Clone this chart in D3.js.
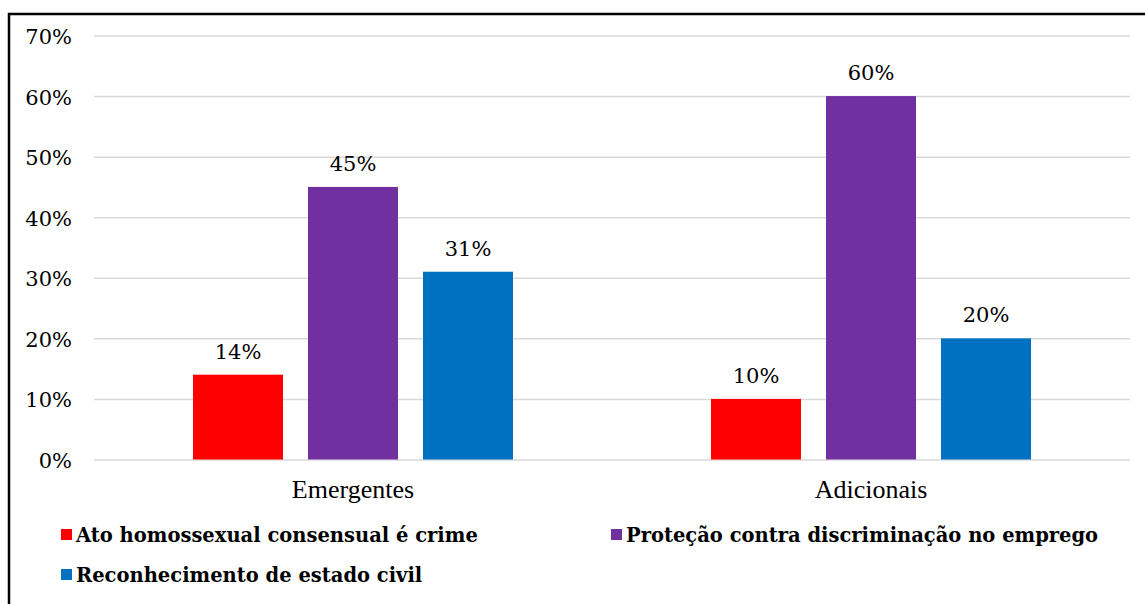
<!DOCTYPE html>
<html>
<head>
<meta charset="utf-8">
<script src="https://cdn.jsdelivr.net/npm/d3@7"></script>
<style>
  body { margin: 0; background: #fff; }
  svg { display: block; }
</style>
</head>
<body>
<svg width="1145" height="604"></svg>
<script>
// chart data
const categories = ["Emergentes", "Adicionais"];
const seriesNames = [
  "Ato homossexual consensual é crime",
  "Proteção contra discriminação no emprego",
  "Reconhecimento de estado civil"
];
const seriesColors = ["#FF0000", "#7030A0", "#0070C0"];
const crime = [14, 10];
const emprego = [45, 60];
const civil = [31, 20];
const yTicks = [0, 10, 20, 30, 40, 50, 60, 70];

const values = [crime, emprego, civil];

const svg = d3.select("svg"),
      width = +svg.attr("width"),
      height = +svg.attr("height");

// outer frame
svg.append("path")
    .attr("d", `M9,${height} V14 H${width}`)
    .attr("fill", "none")
    .attr("stroke", "#000")
    .attr("stroke-width", 2.5);

const plot = { left: 94, right: 1130, top: 35.5, bottom: 459.5 };

const y = d3.scaleLinear()
    .domain([0, 70])
    .range([plot.bottom, plot.top]);

const x0 = d3.scaleBand()
    .domain(categories)
    .range([plot.left, plot.right]);

const x1 = d3.scaleBand()
    .domain(d3.range(seriesNames.length))
    .range([-160, 160])
    .paddingInner(25 / 115);

// gridlines + y labels
const yAxis = d3.axisLeft(y)
    .tickValues(yTicks)
    .tickSize(-(plot.right - plot.left))
    .tickPadding(22)
    .tickFormat(d => d + "%");

const gy = svg.append("g")
    .attr("transform", `translate(${plot.left},0)`)
    .call(yAxis);
gy.select(".domain").remove();
gy.selectAll(".tick line")
    .attr("stroke", "#D9D9D9")
    .attr("stroke-width", 1.5);
gy.selectAll(".tick text")
    .attr("fill", "#000")
    .style("font-family", "'DejaVu Serif', serif")
    .style("font-size", "21px")
    .attr("dy", "0.38em");

// bars
const groups = svg.selectAll(".grp")
    .data(categories)
    .join("g")
    .classed("grp", true)
    .attr("transform", d => `translate(${x0(d) + x0.bandwidth() / 2},0)`);

groups.selectAll("rect")
    .data((c, i) => values.map((s, k) => ({ k: k, v: s[i] })))
    .join("rect")
    .attr("x", d => x1(d.k))
    .attr("width", x1.bandwidth())
    .attr("y", d => y(d.v))
    .attr("height", d => y(0) - y(d.v))
    .attr("fill", d => seriesColors[d.k]);

groups.selectAll(".lbl")
    .data((c, i) => values.map((s, k) => ({ k: k, v: s[i] })))
    .join("text")
    .classed("lbl", true)
    .attr("x", d => x1(d.k) + x1.bandwidth() / 2)
    .attr("y", d => y(d.v) - 16)
    .attr("text-anchor", "middle")
    .style("font-family", "'DejaVu Serif', serif")
    .style("font-size", "21px")
    .text(d => d.v + "%");

// category labels
svg.selectAll(".cat")
    .data(categories)
    .join("text")
    .classed("cat", true)
    .attr("x", d => x0(d) + x0.bandwidth() / 2)
    .attr("y", 498)
    .attr("text-anchor", "middle")
    .style("font-family", "'Liberation Serif', serif")
    .style("font-size", "26px")
    .text(d => d);

// legend
const legendPos = [[61, 535], [611, 535], [61, 575]];
const leg = svg.selectAll(".leg")
    .data(seriesNames)
    .join("g")
    .classed("leg", true)
    .attr("transform", (d, i) => `translate(${legendPos[i][0]},${legendPos[i][1]})`);

leg.append("rect")
    .attr("x", 0)
    .attr("y", -6)
    .attr("width", 11)
    .attr("height", 11)
    .attr("fill", (d, i) => seriesColors[i]);

leg.append("text")
    .attr("x", 15)
    .attr("y", 7)
    .style("font-family", "'DejaVu Serif', serif")
    .style("font-weight", "bold")
    .style("font-size", "19.5px")
    .text(d => d);
</script>
</body>
</html>
